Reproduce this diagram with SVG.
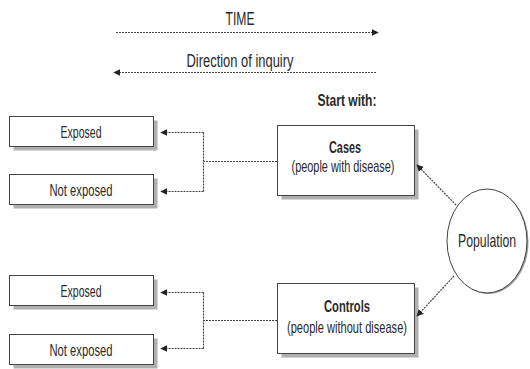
<svg xmlns="http://www.w3.org/2000/svg" width="530" height="369" viewBox="0 0 530 369">
  <style>
    text { font-family: "Liberation Sans Narrow", "Liberation Sans", Arial, sans-serif; fill: #2a2a2a; }
    .lbl { font-size: 17px; text-anchor: middle; }
    .big { font-size: 18px; }
    .bold { font-weight: bold; font-size: 16px; }
    .box { fill: #fff; stroke: #444; stroke-width: 1; }
    .shadow { fill: #b0b0b0; }
    .dot { fill: none; stroke: #444; stroke-width: 1.2; stroke-dasharray: 2 1; }
  </style>
  <defs>
    <marker id="head" viewBox="0 0 10 10" refX="9" refY="5" markerWidth="7" markerHeight="7" markerUnits="userSpaceOnUse" orient="auto">
      <path d="M0,0 L10,5 L0,10 z" fill="#222"/>
    </marker>
  </defs>

  <rect width="530" height="369" fill="#fff"/>

  <!-- timeline headers -->
  <g id="time">
    <text class="lbl big" x="240" y="25" textLength="29" lengthAdjust="spacingAndGlyphs">TIME</text>
  </g>
  <g id="inquiry">
    <text class="lbl big" x="240" y="67" textLength="107" lengthAdjust="spacingAndGlyphs">Direction of inquiry</text>
  </g>
  <g id="start">
    <text class="lbl bold" x="347" y="106" textLength="59" lengthAdjust="spacingAndGlyphs">Start with:</text>
  </g>

  <!-- exposure boxes -->
  <g id="cases-exposed">
    <rect class="shadow" x="13.5" y="120.5" width="144" height="30"/>
    <rect class="box" x="9.5" y="116.5" width="144" height="30"/>
    <text class="lbl" x="81" y="138" textLength="41" lengthAdjust="spacingAndGlyphs">Exposed</text>
  </g>
  <g id="cases-not-exposed">
    <rect class="shadow" x="13.5" y="178.5" width="144" height="30"/>
    <rect class="box" x="9.5" y="174.5" width="144" height="30"/>
    <text class="lbl" x="81" y="196" textLength="63" lengthAdjust="spacingAndGlyphs">Not exposed</text>
  </g>
  <g id="controls-exposed">
    <rect class="shadow" x="13.5" y="279.5" width="144" height="30"/>
    <rect class="box" x="9.5" y="275.5" width="144" height="30"/>
    <text class="lbl" x="81" y="297" textLength="41" lengthAdjust="spacingAndGlyphs">Exposed</text>
  </g>
  <g id="controls-not-exposed">
    <rect class="shadow" x="13.5" y="338.5" width="144" height="30"/>
    <rect class="box" x="9.5" y="334.5" width="144" height="30"/>
    <text class="lbl" x="81" y="356" textLength="63" lengthAdjust="spacingAndGlyphs">Not exposed</text>
  </g>

  <!-- study groups -->
  <g id="cases">
    <rect class="shadow" x="281.5" y="129.5" width="137" height="70"/>
    <rect class="box" x="277.5" y="125.5" width="137" height="70"/>
    <text class="lbl bold" x="345" y="153" textLength="32" lengthAdjust="spacingAndGlyphs">Cases</text>
    <text class="lbl" x="343" y="172" textLength="103" lengthAdjust="spacingAndGlyphs">(people with disease)</text>
  </g>
  <g id="controls">
    <rect class="shadow" x="281.5" y="287.5" width="137" height="70"/>
    <rect class="box" x="277.5" y="283.5" width="137" height="70"/>
    <text class="lbl bold" x="347" y="312" textLength="46" lengthAdjust="spacingAndGlyphs">Controls</text>
    <text class="lbl" x="347" y="333" textLength="120" lengthAdjust="spacingAndGlyphs">(people without disease)</text>
  </g>

  <g id="population">
    <ellipse cx="488.5" cy="242" rx="40" ry="52" fill="#999"/>
    <ellipse cx="487" cy="241" rx="40" ry="52" fill="#fff" stroke="#444" stroke-width="1"/>
    <text class="lbl big" transform="translate(487,247) scale(0.7,1)" x="0" y="0" textLength="83" lengthAdjust="spacingAndGlyphs">Population</text>
  </g>

  <!-- connectors -->
  <g id="connectors">
    <line class="dot" x1="116" y1="32.5" x2="378" y2="32.5" marker-end="url(#head)"/>
    <line class="dot" x1="376" y1="72.5" x2="114" y2="72.5" marker-end="url(#head)"/>

    <line class="dot" x1="277" y1="161.5" x2="203.5" y2="161.5"/>
    <polyline class="dot" points="203.5,132.5 203.5,191.5"/>
    <line class="dot" x1="203.5" y1="132.5" x2="161" y2="132.5" marker-end="url(#head)"/>
    <line class="dot" x1="203.5" y1="191.5" x2="161" y2="191.5" marker-end="url(#head)"/>

    <line class="dot" x1="277" y1="320.5" x2="203.5" y2="320.5"/>
    <polyline class="dot" points="203.5,292.5 203.5,348.5"/>
    <line class="dot" x1="203.5" y1="292.5" x2="161" y2="292.5" marker-end="url(#head)"/>
    <line class="dot" x1="203.5" y1="348.5" x2="161" y2="348.5" marker-end="url(#head)"/>

    <line class="dot" x1="456" y1="205" x2="417" y2="165" marker-end="url(#head)"/>
    <line class="dot" x1="454" y1="276" x2="417" y2="316" marker-end="url(#head)"/>
  </g>
</svg>
